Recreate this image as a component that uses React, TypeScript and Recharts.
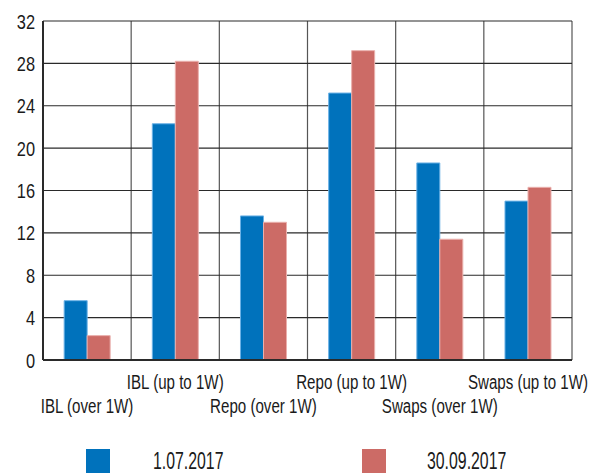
import React from 'react';
import { BarChart, Bar, XAxis, YAxis, CartesianGrid } from 'recharts';

const categories = [
  'IBL (over 1W)',
  'IBL (up to 1W)',
  'Repo (over 1W)',
  'Repo (up to 1W)',
  'Swaps (over 1W)',
  'Swaps (up to 1W)',
];
const seriesNames = ['1.07.2017', '30.09.2017'];
const july = [5.6, 22.3, 13.6, 25.2, 18.6, 15.0];
const september = [2.3, 28.2, 13.0, 29.2, 11.4, 16.3];
const yTicks = [0, 4, 8, 12, 16, 20, 24, 28, 32];

const colors = ['#0072bc', '#cc6b66'];
const edges = ['#6cb2e6', '#eab0ad'];
const font = '"Liberation Sans", Arial, sans-serif';

const data = categories.map((name, i) => ({
  name,
  a: july[i],
  b: september[i],
}));

// narrow text: the original uses a condensed face, so squeeze a regular one
const NarrowText = ({ x, y, size, squeeze, anchor, children }: any) => (
  <text
    transform={`translate(${x},${y}) scale(${squeeze},1)`}
    textAnchor={anchor}
    fontFamily={font}
    fontSize={size}
    fill="#1a1a1a"
  >
    {children}
  </text>
);

const CategoryTick = (props: any) => {
  const { x, y, payload, index } = props;
  const lower = index % 2 === 0;
  return (
    <NarrowText x={x} y={y + (lower ? 45 : 21)} size={21} squeeze={0.72} anchor="middle">
      {payload.value}
    </NarrowText>
  );
};

const ValueTick = (props: any) => {
  const { x, y, payload } = props;
  return (
    <NarrowText x={x} y={y + 7.5} size={20} squeeze={0.82} anchor="end">
      {payload.value}
    </NarrowText>
  );
};

// vertical lines sit between the categories, not on them
const boundaryLines = ({ offset }: any) =>
  Array.from({ length: categories.length + 1 }, (_, i) =>
    offset.left + (offset.width * i) / categories.length
  );

export default function App() {
  return (
    <div
      style={{
        position: 'absolute',
        left: 0,
        top: 0,
        width: 600,
        height: 473,
        background: '#fff',
        overflow: 'hidden',
      }}
    >
      <BarChart
        width={600}
        height={473}
        data={data}
        margin={{ top: 21, right: 28, left: 0, bottom: 53 }}
        barCategoryGap="24%"
        barGap={0}
      >
        <CartesianGrid
          horizontal={false}
          vertical={true}
          verticalCoordinatesGenerator={boundaryLines}
          stroke="#555"
          strokeWidth={1.2}
        />
        <CartesianGrid
          horizontal={true}
          vertical={false}
          stroke="#2a2a2a"
          strokeWidth={1.2}
        />
        <XAxis
          dataKey="name"
          height={60}
          interval={0}
          tickLine={false}
          axisLine={{ stroke: '#2a2a2a', strokeWidth: 2 }}
          tick={<CategoryTick />}
        />
        <YAxis
          width={43}
          domain={[0, 32]}
          ticks={yTicks}
          tickLine={false}
          axisLine={{ stroke: '#2a2a2a', strokeWidth: 2 }}
          tick={<ValueTick />}
        />
        <Bar
          dataKey="a"
          name={seriesNames[0]}
          fill={colors[0]}
          stroke={edges[0]}
          strokeWidth={1}
          isAnimationActive={false}
        />
        <Bar
          dataKey="b"
          name={seriesNames[1]}
          fill={colors[1]}
          stroke={edges[1]}
          strokeWidth={1}
          isAnimationActive={false}
        />
      </BarChart>
      <div
        style={{
          position: 'absolute',
          top: 449,
          left: 86,
          display: 'flex',
          fontFamily: font,
          fontSize: 24,
          color: '#1a1a1a',
        }}
      >
        {seriesNames.map((s, i) => (
          <div
            key={s}
            style={{ width: 276, display: 'flex', alignItems: 'flex-start' }}
          >
            <div
              style={{
                width: 24,
                height: 26,
                background: colors[i],
                marginRight: i === 0 ? 43 : 41,
              }}
            />
            <span
              style={{
                display: 'inline-block',
                lineHeight: '24px',
                marginTop: 0,
                transform: 'scaleX(0.66)',
                transformOrigin: 'left center',
                whiteSpace: 'nowrap',
              }}
            >
              {s}
            </span>
          </div>
        ))}
      </div>
    </div>
  );
}
